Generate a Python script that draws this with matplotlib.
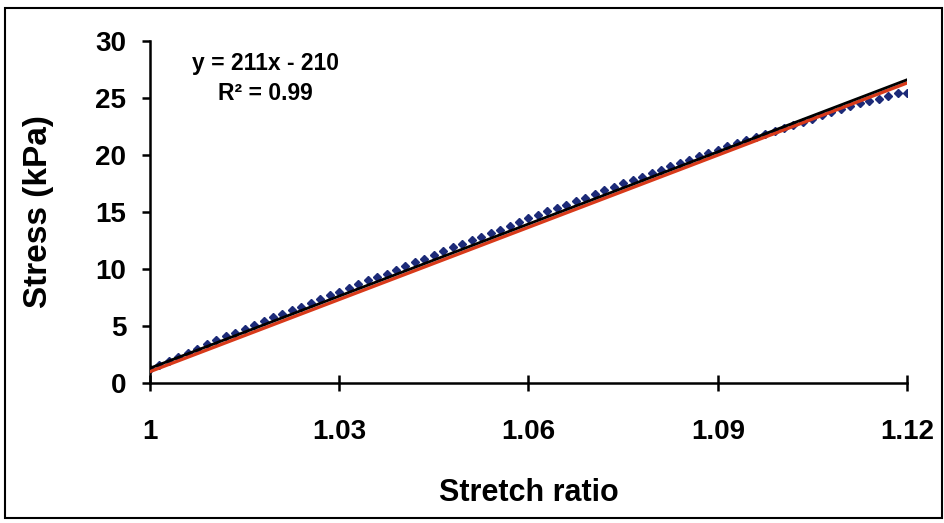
import numpy as np
import matplotlib
matplotlib.use("Agg")
import matplotlib.pyplot as plt
from matplotlib.patches import Rectangle

plt.rcParams['font.family'] = ['Liberation Sans', 'DejaVu Sans']
plt.rcParams['font.weight'] = 'bold'

# stretch ratio samples (step 0.0015)
stretch = np.round(np.arange(81) * 0.0015 + 1.0, 4)
stress = [1.2, 1.55, 1.95, 2.3, 2.65, 3.0, 3.4, 3.75, 4.1, 4.4,
          4.75, 5.1, 5.4, 5.75, 6.05, 6.4, 6.7, 7.05, 7.35, 7.7,
          8.0, 8.3, 8.65, 9.0, 9.3, 9.6, 9.95, 10.3, 10.6, 10.9,
          11.25, 11.55, 11.9, 12.2, 12.5, 12.85, 13.15, 13.45, 13.8, 14.1,
          14.45, 14.75, 15.05, 15.35, 15.65, 15.95, 16.25, 16.6, 16.9, 17.2,
          17.5, 17.8, 18.1, 18.4, 18.7, 19.0, 19.3, 19.6, 19.9, 20.2,
          20.45, 20.75, 21.05, 21.3, 21.55, 21.85, 22.1, 22.4, 22.65, 22.9,
          23.2, 23.5, 23.8, 24.05, 24.3, 24.55, 24.75, 24.95, 25.15, 25.45,
          25.4]

# trendline y = 211x - 210
fit_x = [1.0, 1.12]
fit_y = [1.0, 26.32]
# model curve (black)
model_x = [1.0, 1.12]
model_y = [1.3, 26.6]

xticks = [1, 1.03, 1.06, 1.09, 1.12]
xticklabels = ['1', '1.03', '1.06', '1.09', '1.12']
yticks = [0, 5, 10, 15, 20, 25, 30]

fig = plt.figure(figsize=(9.45, 5.23), dpi=100)
ax = fig.add_axes([0.1587, 0.2677, 0.8011, 0.6539])

ax.plot(stretch, stress, linestyle='none', marker='D', markersize=4.2,
        color='#1c2a78', zorder=2)
ax.plot(fit_x, fit_y, color='#d83a1a', linewidth=2.4, zorder=3)
ax.plot(model_x, model_y, color='black', linewidth=2.0, zorder=4)

ax.set_xlim(1.0, 1.12)
ax.set_ylim(0, 30)
ax.set_xticks(xticks)
ax.set_xticklabels(xticklabels)
ax.set_yticks(yticks)

for s in ['top', 'right']:
    ax.spines[s].set_visible(False)
for s in ['left', 'bottom']:
    ax.spines[s].set_linewidth(1.8)
    ax.spines[s].set_clip_on(False)

ax.tick_params(axis='y', direction='out', length=6, width=1.8,
               labelsize=20, pad=11)
ax.tick_params(axis='x', direction='inout', length=12, width=1.8,
               labelsize=20, pad=20)

ax.set_xlabel('Stretch ratio', fontsize=22, fontweight='bold', labelpad=24)
ax.set_ylabel('Stress (kPa)', fontsize=24, fontweight='bold', labelpad=30)

ax.text(0.152, 0.89, 'y = 211x - 210\nR² = 0.99', transform=ax.transAxes,
        ha='center', va='center', fontsize=16.5, fontweight='bold',
        linespacing=1.35)

# outer frame
fig.patches.append(Rectangle((0.005, 0.01), 0.992, 0.975, transform=fig.transFigure,
                             fill=False, edgecolor='black', linewidth=1.5))

fig.savefig('out.png', dpi=100)
